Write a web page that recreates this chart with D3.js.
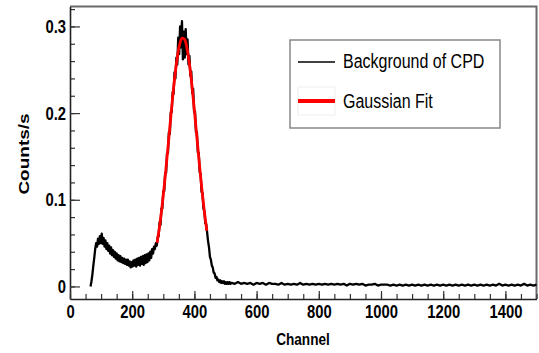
<!DOCTYPE html>
<html>
<head>
<meta charset="utf-8">
<script src="https://cdn.jsdelivr.net/npm/d3@7"></script>
<style>
  body { margin: 0; background: #fff; }
  svg { display: block; font-family: "Liberation Sans", Arial, sans-serif; }
</style>
</head>
<body>
<svg id="chart" width="539" height="353"></svg>
<script>
// measured spectrum, channel = lowStart + i*lowStep
var lowStart = 66, lowStep = 3;
var countsLow = [
  0.000, 0.006, 0.014, 0.024, 0.033, 0.043, 0.050, 0.046, 0.055, 0.049,
  0.058, 0.050, 0.061, 0.049, 0.056, 0.046, 0.053, 0.043, 0.050, 0.041,
  0.047, 0.038, 0.045, 0.036, 0.042, 0.034, 0.040, 0.032, 0.038, 0.030,
  0.036, 0.029, 0.035, 0.028, 0.033, 0.027, 0.032, 0.026, 0.031, 0.025,
  0.031, 0.024, 0.029, 0.022, 0.028, 0.023, 0.030, 0.024, 0.031, 0.023,
  0.032, 0.025, 0.033, 0.024, 0.034, 0.026, 0.035, 0.025, 0.036, 0.027,
  0.037, 0.028, 0.038, 0.030, 0.040, 0.033, 0.043, 0.038, 0.046, 0.043,
  0.050, 0.047, 0.057, 0.058, 0.074, 0.071, 0.090, 0.090, 0.110, 0.110,
  0.131, 0.131, 0.154, 0.154, 0.178, 0.176, 0.201, 0.201, 0.224, 0.222,
  0.247, 0.240, 0.264, 0.256, 0.287, 0.268, 0.300, 0.276, 0.306, 0.262,
  0.294, 0.264, 0.297, 0.268, 0.285, 0.256, 0.266, 0.243, 0.248, 0.223,
  0.228, 0.201, 0.202, 0.178, 0.178, 0.155, 0.154, 0.132, 0.130, 0.109,
  0.108, 0.090, 0.087, 0.073, 0.072, 0.062, 0.052, 0.045, 0.034, 0.031,
  0.024, 0.022, 0.016, 0.015, 0.010, 0.011, 0.007, 0.008, 0.005, 0.007,
  0.004, 0.006, 0.004, 0.006, 0.003, 0.005, 0.003, 0.005, 0.003, 0.005,
  0.003, 0.004
];

var tailStart = 520, tailStep = 10;
var countsTail = [
  0.004, 0.003, 0.005, 0.003, 0.004, 0.003, 0.004, 0.002, 0.004, 0.003,
  0.004, 0.002, 0.004, 0.003, 0.003, 0.002, 0.004, 0.002, 0.003, 0.002,
  0.003, 0.002, 0.004, 0.002, 0.003, 0.002, 0.003, 0.002, 0.003, 0.002,
  0.003, 0.002, 0.003, 0.002, 0.003, 0.002, 0.003, 0.001, 0.003, 0.002,
  0.003, 0.002, 0.003, 0.001, 0.002, 0.002, 0.003, 0.001, 0.002, 0.002,
  0.002, 0.001, 0.002, 0.001, 0.002, 0.001, 0.002, 0.001, 0.002, 0.001,
  0.002, 0.001, 0.002, 0.001, 0.002, 0.001, 0.002, 0.001, 0.002, 0.001,
  0.002, 0.001, 0.002, 0.001, 0.002, 0.001, 0.002, 0.001, 0.002, 0.001,
  0.002, 0.001, 0.002, 0.001, 0.002, 0.001, 0.003, 0.001, 0.002, 0.001,
  0.002, 0.001, 0.002, 0.001, 0.003, 0.001, 0.002, 0.001, 0.002
];

// gaussian fit
var fitChannels = [280, 288, 296, 304, 312, 320, 328, 336, 344, 352, 360,
                   368, 376, 384, 392, 400, 408, 416, 424, 432, 440];
var fitCounts = [0.0504, 0.0694, 0.0924, 0.1192, 0.1488, 0.1799, 0.2107,
                 0.2388, 0.2620, 0.2784, 0.2863, 0.2852, 0.2750, 0.2568,
                 0.2321, 0.2031, 0.1721, 0.1412, 0.1122, 0.0863, 0.0642];

var xTicks = [0, 200, 400, 600, 800, 1000, 1200, 1400];
var yTicks = [0, 0.1, 0.2, 0.3];
var legendLabels = ["Background of CPD", "Gaussian Fit"];

function drawChart() {
  var svg = d3.select('#chart');
  var pLeft = 70, pRight = 536.5, pTop = 6.5, pBottom = 299;

  var x = d3.scaleLinear().domain([0, 1500]).range([pLeft, pRight]);
  var y = d3.scaleLinear().domain([-0.0145, 0.323]).range([pBottom, pTop]);

  var spectrum = countsLow.map(function(v, i) { return [lowStart + i * lowStep, v]; })
    .concat(countsTail.map(function(v, i) { return [tailStart + i * tailStep, v]; }));
  var fit = fitChannels.map(function(c, i) { return [c, fitCounts[i]]; });

  var line = d3.line()
    .x(function(d) { return x(d[0]); })
    .y(function(d) { return y(d[1]); });

  // frame top/right
  svg.append('path')
    .attr('d', 'M' + pLeft + ',' + pTop + 'H' + pRight + 'V' + pBottom)
    .attr('fill', 'none')
    .attr('stroke', '#6a6a6a')
    .attr('stroke-width', 2);

  // minor ticks
  svg.append('g')
    .attr('transform', 'translate(' + pLeft + ',0)')
    .call(d3.axisLeft(y).tickValues(d3.range(0, 0.33, 0.02)).tickSize(-5).tickFormat(''))
    .call(function(g) { g.select('.domain').remove(); });
  svg.append('g')
    .attr('transform', 'translate(0,' + pBottom + ')')
    .call(d3.axisBottom(x).tickValues(d3.range(0, 1501, 50)).tickSize(-5).tickFormat(''))
    .call(function(g) { g.select('.domain').remove(); });

  // major axes
  var yAxis = svg.append('g')
    .attr('transform', 'translate(' + pLeft + ',0)')
    .call(d3.axisLeft(y).tickValues(yTicks).tickSize(-10).tickSizeOuter(0).tickPadding(5)
      .tickFormat(function(d) { return d === 0 ? '0' : d3.format('.1f')(d); }));
  var xAxis = svg.append('g')
    .attr('transform', 'translate(0,' + pBottom + ')')
    .call(d3.axisBottom(x).tickValues(xTicks).tickSize(-8).tickSizeOuter(0).tickPadding(6)
      .tickFormat(d3.format('d')));

  svg.selectAll('.tick line').attr('stroke', '#333').attr('stroke-width', 1.2);
  svg.selectAll('.domain').attr('stroke', '#222').attr('stroke-width', 1.6);

  yAxis.selectAll('text')
    .attr('x', 0)
    .attr('transform', 'translate(-4,0) scale(0.8,1)')
    .attr('font-size', 18.5).attr('font-weight', 'bold').attr('fill', '#000')
    .attr('font-family', '"Liberation Sans", Arial, sans-serif');
  xAxis.selectAll('text')
    .attr('y', 0)
    .attr('transform', 'translate(0,6) scale(0.8,1)')
    .attr('font-size', 18.5).attr('font-weight', 'bold').attr('fill', '#000')
    .attr('font-family', '"Liberation Sans", Arial, sans-serif');

  // axis titles
  svg.append('text')
    .attr('transform', 'translate(29,154) scale(0.8,1) rotate(-90)')
    .attr('text-anchor', 'middle')
    .attr('font-size', 19).attr('font-weight', 'bold')
    .text('Counts/s');
  svg.append('text')
    .attr('transform', 'translate(303,345) scale(0.8,1)')
    .attr('text-anchor', 'middle')
    .attr('font-size', 17).attr('font-weight', 'bold')
    .text('Channel');

  // data
  svg.append('path')
    .datum(spectrum)
    .attr('d', line)
    .attr('fill', 'none')
    .attr('stroke', '#000')
    .attr('stroke-width', 2.3)
    .attr('stroke-linejoin', 'round');
  svg.append('path')
    .datum(fit)
    .attr('d', line.curve(d3.curveCatmullRom))
    .attr('fill', 'none')
    .attr('stroke', '#ff0000')
    .attr('stroke-width', 2.8);

  // legend
  var legend = svg.append('g');
  legend.append('rect')
    .attr('x', 290).attr('y', 40).attr('width', 210).attr('height', 88)
    .attr('fill', '#fff').attr('stroke', '#888').attr('stroke-width', 1.5);
  legend.append('rect')
    .attr('x', 298).attr('y', 87).attr('width', 37).attr('height', 28)
    .attr('fill', 'none').attr('stroke', '#eee').attr('stroke-width', 1);
  legend.append('line')
    .attr('x1', 298).attr('x2', 335).attr('y1', 62).attr('y2', 62)
    .attr('stroke', '#000').attr('stroke-width', 1.6);
  legend.append('line')
    .attr('x1', 298).attr('x2', 335).attr('y1', 101).attr('y2', 101)
    .attr('stroke', '#ff0000').attr('stroke-width', 4);
  legend.selectAll('text.lab')
    .data(legendLabels)
    .enter()
    .append('text')
    .attr('class', 'lab')
    .attr('transform', function(d, i) { return 'translate(343,' + (68 + i * 40) + ') scale(0.8,1)'; })
    .attr('font-size', 20)
    .text(function(d) { return d; });
}

drawChart();
</script>
</body>
</html>
